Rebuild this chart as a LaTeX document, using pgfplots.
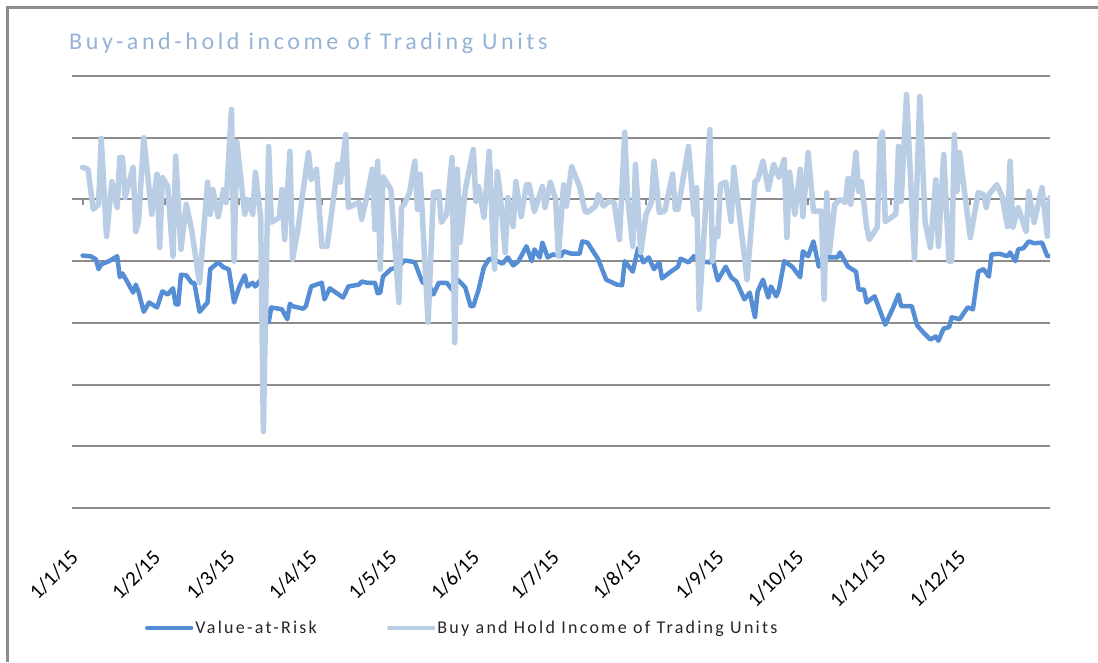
\documentclass[border=0pt]{standalone}
\usepackage{fontspec}
\setmainfont{Carlito}
\newfontfamily\spacedtitle[LetterSpace=15]{Carlito}
\newfontfamily\spacedleg[LetterSpace=12.5]{Carlito}
\usepackage{pgfplots}
\usepackage{pgfplotstable}
\pgfplotsset{compat=1.18}
\definecolor{varblue}{HTML}{558ED5}
\definecolor{bhblue}{HTML}{B9CDE5}
\definecolor{titleblue}{HTML}{95B3D7}
\definecolor{gridgray}{HTML}{8C8C8C}

\pgfplotstableread{
day val
0 -0.91
3 -0.92
5 -0.97
6 -1.13
7 -1.05
10 -1.00
13 -0.92
14 -1.26
15 -1.20
17 -1.35
19 -1.51
20 -1.38
21 -1.49
23 -1.82
25 -1.67
28 -1.75
30 -1.49
32 -1.54
34 -1.44
35 -1.70
36 -1.70
37 -1.22
39 -1.23
41 -1.35
42 -1.35
44 -1.82
47 -1.67
48 -1.13
51 -1.02
53 -1.10
55 -1.13
57 -1.67
59 -1.41
61 -1.23
62 -1.41
64 -1.35
65 -1.41
67 -1.30
70 -1.99
71 -1.75
75 -1.78
77 -1.94
78 -1.69
79 -1.73
83 -1.77
84 -1.73
86 -1.41
90 -1.35
91 -1.62
93 -1.44
98 -1.59
100 -1.41
104 -1.38
105 -1.33
107 -1.35
110 -1.35
111 -1.52
112 -1.51
113 -1.25
116 -1.13
119 -1.09
121 -0.99
123 -1.00
125 -1.02
127 -1.25
128 -1.35
130 -1.35
132 -1.54
134 -1.35
137 -1.35
139 -1.46
141 -1.30
143 -1.38
144 -1.43
146 -1.73
147 -1.73
149 -1.46
151 -1.10
153 -0.96
156 -1.00
158 -1.04
160 -0.94
162 -1.07
164 -1.00
167 -0.76
169 -1.00
170 -0.81
172 -0.94
173 -0.70
175 -0.94
177 -0.89
180 -0.92
181 -0.84
184 -0.88
187 -0.88
188 -0.68
190 -0.70
194 -0.97
197 -1.30
201 -1.38
203 -1.39
204 -1.00
207 -1.17
209 -0.79
211 -1.02
213 -0.94
215 -1.13
217 -1.02
218 -1.28
221 -1.18
224 -1.09
225 -0.96
228 -1.02
230 -0.92
232 -1.00
236 -1.02
237 -0.96
239 -1.31
242 -1.09
244 -1.26
246 -1.33
249 -1.62
251 -1.51
253 -1.91
254 -1.49
256 -1.30
258 -1.59
259 -1.41
261 -1.57
262 -1.46
264 -1.00
267 -1.09
270 -1.26
271 -0.84
273 -0.92
275 -0.68
277 -1.09
279 -0.89
281 -0.94
284 -0.94
285 -0.86
288 -1.09
291 -1.17
292 -1.46
294 -1.46
295 -1.67
298 -1.57
302 -2.03
305 -1.75
307 -1.54
308 -1.73
312 -1.73
314 -2.04
316 -2.14
319 -2.27
321 -2.22
322 -2.29
324 -2.09
326 -2.07
327 -1.91
330 -1.94
333 -1.75
335 -1.78
337 -1.17
339 -1.13
341 -1.25
342 -0.89
345 -0.88
348 -0.92
349 -0.86
351 -1.00
352 -0.81
354 -0.79
356 -0.68
358 -0.71
361 -0.70
363 -0.92
364 -0.92
}\vardata

\pgfplotstableread{
day val
0 0.52
2 0.49
4 -0.16
6 -0.08
7 0.99
9 -0.60
11 0.29
13 -0.13
14 0.68
15 0.68
16 0.03
19 0.52
20 -0.52
21 -0.37
23 1.00
26 -0.24
28 0.41
29 -0.78
30 0.36
32 0.21
34 -0.92
35 0.70
37 -0.81
39 -0.08
41 -0.49
44 -1.35
47 0.28
48 -0.24
49 0.16
51 -0.28
53 0.16
54 -0.05
56 1.46
57 -1.00
58 0.94
61 -0.24
62 0.00
64 -0.24
65 0.44
67 -0.28
68 -3.76
70 0.86
71 -0.37
74 -0.29
75 0.16
76 -0.65
78 0.78
79 -0.97
81 -0.49
83 0.16
85 0.76
86 0.32
88 0.49
90 -0.76
92 -0.76
95 0.21
96 0.57
97 0.28
99 1.05
100 -0.13
104 -0.05
105 -0.32
107 0.05
109 0.49
110 -0.49
111 0.62
112 -1.13
113 0.37
116 0.16
119 -1.67
120 -0.13
121 -0.08
123 0.11
125 0.62
126 -0.16
127 0.41
130 -1.99
132 0.11
134 0.13
135 -0.37
137 -0.24
139 0.68
140 -2.32
141 0.49
142 -0.70
144 0.16
147 0.81
148 -0.03
149 0.21
151 -0.29
153 0.78
154 -0.28
155 -1.13
156 0.45
157 0.13
159 -0.86
160 0.03
162 -0.44
163 0.29
165 -0.28
167 0.24
168 0.24
170 -0.19
173 0.21
174 -0.13
176 0.28
178 0.00
179 -0.92
181 0.24
182 -0.11
184 0.53
187 0.21
189 -0.19
190 -0.21
193 -0.11
194 0.08
196 -0.11
198 -0.03
200 -0.05
202 -0.65
204 1.09
205 0.05
207 -0.76
208 0.57
210 -0.86
212 -0.24
214 -0.05
215 0.62
217 -0.21
219 -0.19
222 0.41
223 -0.16
224 -0.16
228 0.86
230 -0.24
231 0.19
232 -1.78
234 -0.44
236 1.13
237 -1.00
238 -0.49
239 -0.60
240 0.24
242 0.28
244 -0.36
245 0.52
250 -1.30
253 0.29
254 0.32
256 0.62
258 0.16
260 0.57
262 0.36
264 0.65
265 -0.62
266 0.44
268 -0.24
270 0.49
271 -0.28
273 0.76
275 -0.19
278 -0.19
279 -1.62
280 0.11
281 -0.86
283 -0.08
285 0.00
287 -0.05
288 0.34
289 -0.08
291 0.76
292 0.13
293 0.29
295 -0.44
296 -0.65
299 -0.45
300 0.94
301 1.09
302 -0.36
306 -0.24
307 0.86
308 -0.03
310 1.70
313 -0.97
315 1.67
317 -0.37
319 -0.78
321 0.32
322 -0.76
324 0.73
326 -1.00
327 -1.00
328 1.05
329 0.13
330 0.76
334 -0.62
337 0.11
339 0.08
340 -0.13
341 0.08
344 0.24
346 0.05
348 -0.44
349 0.62
350 -0.45
352 -0.13
355 -0.52
356 0.13
358 -0.37
361 0.19
363 -0.60
364 0.03
}\bhdata

\begin{document}
\begin{tikzpicture}
\useasboundingbox (0pt,-662pt) rectangle (1098pt,0pt);
\draw[gridgray, line width=3pt] (7pt,-662pt) -- (7pt,-7pt) -- (1098pt,-7pt);
\node[anchor=west, inner sep=0pt, text=titleblue,
      font=\spacedtitle\fontsize{24}{28}\selectfont] at (69pt,-43pt) {Buy-and-hold income of Trading Units};

% zero line with its month ticks
\begin{axis}[at={(72pt,-508pt)}, anchor=south west, scale only axis,
  width=978pt, height=432pt,
  xmin=-4, xmax=364, ymin=-5, ymax=2,
  axis x line=middle, axis y line=none,
  x axis line style={gridgray, line width=2pt, -},
  xtick={0,31,59,90,120,151,181,212,243,273,304,334},
  xticklabels={},
  xtick style={gridgray, line width=2pt},
  major tick length=6pt, tick align=outside]
\addplot[draw=none] coordinates {(0,0)};
\end{axis}

\begin{axis}[at={(72pt,-508pt)}, anchor=south west, scale only axis,
  width=978pt, height=432pt,
  xmin=-4, xmax=364, ymin=-5, ymax=2,
  axis line style={draw=none},
  ytick={-5,-4,-3,-2,-1,0,1,2}, yticklabels={},
  ymajorgrids, major grid style={gridgray, line width=2pt},
  major tick length=0pt,
  xtick={0,31,59,90,120,151,181,212,243,273,304,334},
  xticklabels={1/1/15,1/2/15,1/3/15,1/4/15,1/5/15,1/6/15,1/7/15,1/8/15,1/9/15,1/10/15,1/11/15,1/12/15},
  xticklabel style={anchor=east, inner sep=0pt, xshift=-8pt, yshift=-46pt, rotate=45,
     font=\fontsize{21}{24}\selectfont, text=black},
  legend columns=2,
  legend style={at={(0.399,-0.278)}, anchor=center, draw=none, fill=none,
     font=\spacedleg\fontsize{18}{22}\selectfont, text=black!85,
     /tikz/every even column/.append style={column sep=68pt},
     inner sep=0pt, nodes={inner sep=2pt}},
  legend image code/.code={\draw[#1, line width=4.5pt] (0pt,0pt) -- (44pt,0pt);},
  legend cell align=left]
\addplot[varblue, line width=4.5pt, line join=round, line cap=round] table[x=day,y=val] {\vardata};
\addlegendentry{Value-at-Risk}
\addplot[bhblue, line width=5.5pt, line join=round, line cap=round] table[x=day,y=val] {\bhdata};
\addlegendentry{Buy and Hold Income of Trading Units}
\end{axis}
\end{tikzpicture}
\end{document}
